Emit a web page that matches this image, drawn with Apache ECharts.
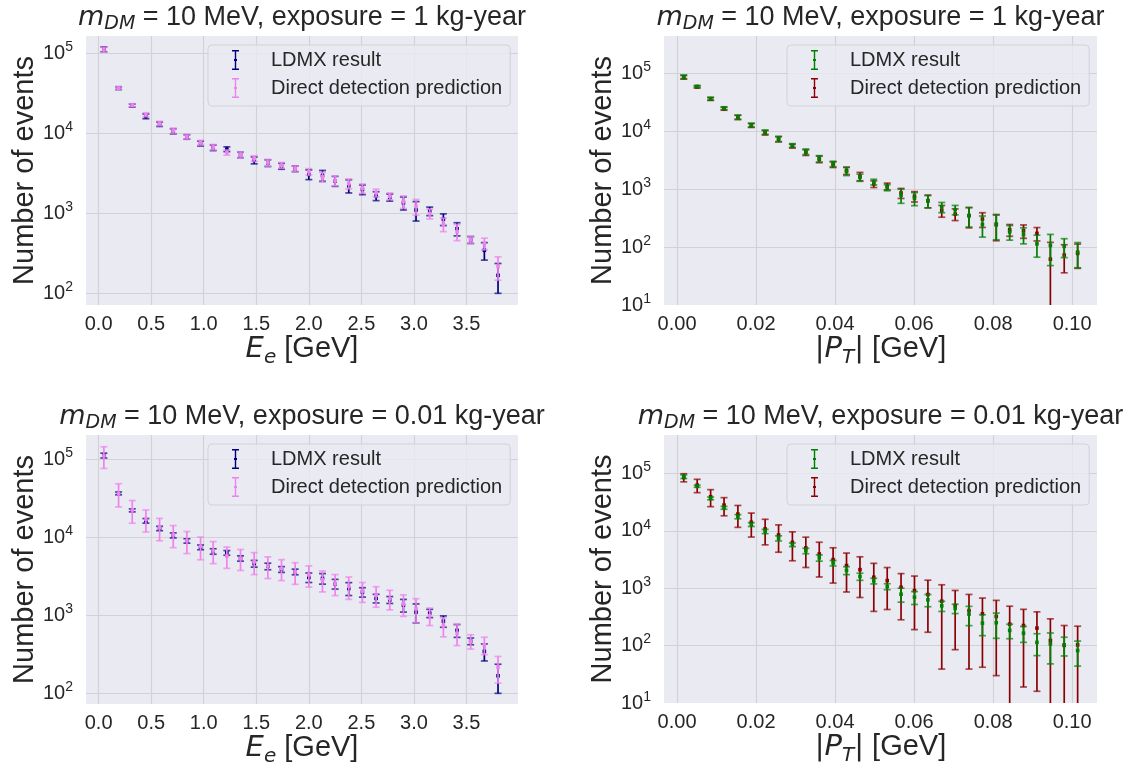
<!DOCTYPE html>
<html>
<head>
<meta charset="utf-8">
<script src="https://cdn.jsdelivr.net/npm/echarts@6/dist/echarts.min.js"></script>
<style>html,body{margin:0;padding:0;background:#fff;}#c{width:1134px;height:765px;}</style>
</head>
<body>
<div id="c"></div>
<script>
// ---------- data ----------
const xE = [0.05,0.19,0.32,0.45,0.58,0.71,0.84,0.97,1.09,1.22,1.35,1.48,1.61,1.74,1.87,2.00,2.13,2.25,2.38,2.51,2.64,2.77,2.90,3.02,3.15,3.28,3.41,3.54,3.67,3.80];
const ldmxE = [112000,36600,22200,16300,13000,10600,9000,7450,6600,6330,5370,4600,4250,3880,3610,3060,2970,2530,2210,1985,1650,1580,1350,1100,1065,843,642,466,345,168];
const ldmxErrE = [7800,1500,980,1110,840,780,580,520,530,435,425,455,410,330,300,425,460,360,415,275,210,160,250,300,130,140,120,46,85,68];
const ddE = [110700,36600,22400,17060,13260,10750,9030,7620,6710,5750,5370,4850,4290,3980,3610,3300,2850,2560,2350,2050,1800,1635,1400,1220,990,730,590,466,419,216];
const ddErrE_1kg = [7800,1420,980,1000,840,780,580,520,530,425,425,385,410,330,300,315,400,360,330,275,200,160,250,270,140,140,135,46,70,70];
const ddErrE_001kg = [34300,12100,7230,5360,4220,3380,2840,2460,2110,1750,1610,1520,1330,1190,1115,1000,855,770,750,585,530,460,430,415,250,200,180,97,105,81];

const xP = [0.0017,0.0051,0.0085,0.0119,0.0154,0.0188,0.0223,0.0257,0.0292,0.0326,0.0360,0.0395,0.0429,0.0463,0.0498,0.0532,0.0567,0.0601,0.0635,0.0670,0.0704,0.0739,0.0773,0.0808,0.0842,0.0877,0.0911,0.0945,0.0980,0.1014];
const ldmxP = [88100,59900,36800,25200,17700,12900,9770,7430,5730,4480,3390,2750,2050,1600,1340,1070,787,698,627,493,444,353,247,251,184,165,114,107,103,82];
const ldmxErrP = [6450,2570,2090,1440,1470,980,840,765,420,490,427,300,324,227,151,127,215,177,151,99,82,130,98,117,52,51,47,59,37,38];
const ddP_1kg = [86300,58800,36400,24700,17500,12700,9490,7360,5570,4330,3310,2680,2110,1680,1235,1128,864,757,636,427,373,349,306,244,200,192,173,62,73,78];
const ddErrP_1kg = [6300,2570,2090,1440,1470,980,840,765,420,490,427,300,306,277,163,149,170,154,158,98,85,134,87,115,46,50,45,59,37,35];
const ddP_001kg = [85200,62700,39300,28100,19600,14100,10800,8470,6310,5030,3950,3150,2480,2110,1555,1360,1040,910,776,594,500,409,358,322,237,224,202,123,101,103];
const ddErrP_001kg = [13700,16400,12900,9800,8100,6300,5100,4230,3300,2730,2380,1920,1620,1420,1160,934,758,720,605,555,415,370,316,292,249,205,186,170,123,115];

const seriesNames = ['LDMX result', 'Direct detection prediction'];
const titles = ['= 10 MeV, exposure = 1 kg-year', '= 10 MeV, exposure = 1 kg-year',
                '= 10 MeV, exposure = 0.01 kg-year', '= 10 MeV, exposure = 0.01 kg-year'];

// ---------- style ----------
const FONT = 'Liberation Sans, Arial, sans-serif';
const MATH = 'DejaVu Sans';
const TXT = '#262626';
const NAVY = '#00007f', VIOLET = '#ee82ee', GREEN = '#007f00', DARKRED = '#8b0000';
const ICON = 'path://M0,0H7V1.5H4.2V9H5V11H4.2V18.5H7V20H0V18.5H2.8V11H2V9H2.8V1.5H0Z';

const grids = [
  {left: 86, top: 36, width: 432, height: 269},
  {left: 664, top: 36, width: 433, height: 269},
  {left: 86, top: 435, width: 432, height: 269},
  {left: 664, top: 435, width: 433, height: 268}
];
const yRanges = [[71.5, 164000], [10, 446000], [73, 205000], [10, 468000]];

function build(x, y, e) {
  return x.map((v, i) => [v, y[i], y[i] - e[i], y[i] + e[i]]);
}

function makeRender(color) {
  return function (params, api) {
    const cs = params.coordSys;
    const bottom = cs.y + cs.height;
    const x = api.value(0), y = api.value(1), lo = api.value(2), hi = api.value(3);
    const c = api.coord([x, y]);
    const top = api.coord([x, hi])[1];
    let bot, showBotCap = true;
    if (lo <= 0) { bot = bottom; showBotCap = false; }
    else {
      bot = api.coord([x, lo])[1];
      if (bot > bottom) { bot = bottom; showBotCap = false; }
    }
    const w = 3.5;
    const s = {stroke: color, lineWidth: 1.7};
    const capS = {stroke: color, lineWidth: 1.7, opacity: 0.7};
    const ch = [
      {type: 'line', shape: {x1: c[0], y1: top, x2: c[0], y2: bot}, style: s},
      {type: 'line', shape: {x1: c[0] - w, y1: top, x2: c[0] + w, y2: top}, style: capS}
    ];
    if (showBotCap) ch.push({type: 'line', shape: {x1: c[0] - w, y1: bot, x2: c[0] + w, y2: bot}, style: capS});
    if (c[1] <= bottom) ch.push({type: 'rect', shape: {x: c[0] - 1.8, y: c[1] - 1.8, width: 3.6, height: 3.6}, style: {fill: color}});
    return {type: 'group', children: ch};
  };
}

function errSeries(name, idx, color, data, z) {
  return {
    type: 'custom', name: name, xAxisIndex: idx, yAxisIndex: idx, z: z,
    itemStyle: {color: color},
    renderItem: makeRender(color),
    encode: {x: 0, y: 1},
    data: data
  };
}

const rich = {
  t: {fontFamily: FONT, fontSize: 27, fontWeight: 'normal', color: TXT, lineHeight: 33},
  i: {fontFamily: MATH, fontStyle: 'italic', fontWeight: 'normal', fontSize: 27, color: TXT, lineHeight: 33},
  sub: {fontFamily: MATH, fontStyle: 'italic', fontWeight: 'normal', fontSize: 19, color: TXT, lineHeight: 19, verticalAlign: 'bottom'}
};
const axRich = {
  t: {fontFamily: FONT, fontSize: 29, color: TXT, lineHeight: 36},
  u: {fontFamily: MATH, fontSize: 29, color: TXT, lineHeight: 36},
  i: {fontFamily: MATH, fontStyle: 'italic', fontSize: 29, color: TXT, lineHeight: 36},
  sub: {fontFamily: MATH, fontStyle: 'italic', fontSize: 20, color: TXT, lineHeight: 20, verticalAlign: 'bottom'}
};
const tickRich = {
  b: {fontFamily: FONT, fontSize: 20, color: TXT, lineHeight: 26},
  s: {fontFamily: FONT, fontSize: 14, color: TXT, lineHeight: 13, verticalAlign: 'top'}
};

function logLabel(v) {
  const l = Math.log10(v);
  const r = Math.round(l);
  if (Math.abs(l - r) < 1e-6) return '{b|10}{s|' + r + '}';
  return '';
}

const xAxes = [], yAxes = [];
for (let k = 0; k < 4; k++) {
  const left = (k % 2 === 0);
  xAxes.push({
    type: 'value', gridIndex: k,
    min: left ? -0.12 : -0.0033, max: left ? 3.99 : 0.1063,
    splitNumber: left ? 8 : 5,
    axisLine: {show: false}, axisTick: {show: false},
    splitLine: {show: true, showMinLine: false, showMaxLine: false, lineStyle: {color: '#d2d2d6', width: 1.2}},
    axisLabel: {
      fontFamily: FONT, fontSize: 20, color: TXT, margin: 9,
      formatter: function (v) {
        if (left) { return (Math.abs(v * 2 - Math.round(v * 2)) < 1e-9) ? v.toFixed(1) : ''; }
        return (Math.abs(v * 50 - Math.round(v * 50)) < 1e-9) ? v.toFixed(2) : '';
      }
    },
    name: left ? '{i|E}{sub|e}{t| [GeV]}' : '{u||}{i|P}{sub|T}{u||}{t| [GeV]}',
    nameLocation: 'middle', nameGap: 24,
    nameTextStyle: {rich: axRich}
  });
  yAxes.push({
    type: 'log', logBase: 10, gridIndex: k,
    min: yRanges[k][0], max: yRanges[k][1],
    axisLine: {show: false}, axisTick: {show: false},
    minorTick: {show: false}, minorSplitLine: {show: false},
    splitLine: {show: true, showMinLine: false, showMaxLine: false, lineStyle: {color: '#d2d2d6', width: 1.2}},
    axisLabel: {margin: 13, formatter: logLabel, rich: tickRich, showMinLabel: true},
    name: 'Number of events', nameLocation: 'middle', nameGap: 47,
    nameTextStyle: {fontFamily: FONT, fontSize: 29, color: TXT}
  });
}

const series = [
  errSeries(seriesNames[0], 0, NAVY, build(xE, ldmxE, ldmxErrE), 2),
  errSeries(seriesNames[1], 0, VIOLET, build(xE, ddE, ddErrE_1kg), 3),
  errSeries(seriesNames[1], 1, DARKRED, build(xP, ddP_1kg, ddErrP_1kg), 2),
  errSeries(seriesNames[0], 1, GREEN, build(xP, ldmxP, ldmxErrP), 3),
  errSeries(seriesNames[0], 2, NAVY, build(xE, ldmxE, ldmxErrE), 2),
  errSeries(seriesNames[1], 2, VIOLET, build(xE, ddE, ddErrE_001kg), 3),
  errSeries(seriesNames[1], 3, DARKRED, build(xP, ddP_001kg, ddErrP_001kg), 2),
  errSeries(seriesNames[0], 3, GREEN, build(xP, ldmxP, ldmxErrP), 3)
];

const legendPos = [[208, 45], [787, 45], [208, 444], [787, 444]];
const legendCols = [[NAVY, VIOLET], [GREEN, DARKRED], [NAVY, VIOLET], [GREEN, DARKRED]];
const legends = legendPos.map((p, k) => ({
  left: p[0], top: p[1], orient: 'vertical', selectedMode: false,
  data: [
    {name: seriesNames[0], icon: ICON, itemStyle: {color: legendCols[k][0]}},
    {name: seriesNames[1], icon: ICON, itemStyle: {color: legendCols[k][1]}}
  ],
  itemWidth: 7, itemHeight: 20, itemGap: 6,
  padding: [4, 8, 7, 24],
  textStyle: {fontFamily: FONT, fontSize: 20, color: TXT, padding: [0, 0, 0, 27], lineHeight: 22},
  backgroundColor: 'rgba(234,234,242,0.8)', borderColor: 'rgba(204,204,210,0.8)', borderWidth: 1, borderRadius: 4
}));

const titleArr = titles.map((t, k) => ({
  text: '{i|m}{sub|DM}{t| ' + t + '}',
  left: grids[k].left + grids[k].width / 2, top: k < 2 ? 1 : 400,
  textAlign: 'center', padding: 0,
  textStyle: {fontWeight: 'normal', fontSize: 27, color: TXT, rich: rich}
}));

const chart = echarts.init(document.getElementById('c'), null, {renderer: 'canvas'});
chart.setOption({
  backgroundColor: '#ffffff',
  animation: false,
  title: titleArr,
  legend: legends,
  grid: grids.map(g => Object.assign({show: true, backgroundColor: '#eaeaf2', borderWidth: 0, outerBoundsMode: 'none'}, g)),
  xAxis: xAxes,
  yAxis: yAxes,
  series: series
});
</script>
</body>
</html>
